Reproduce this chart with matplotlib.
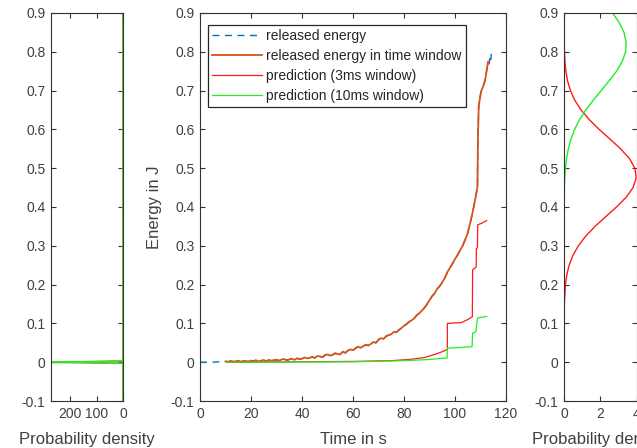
import matplotlib
matplotlib.use("Agg")
import matplotlib.pyplot as plt

plt.rcParams['font.family'] = ['Liberation Sans', 'DejaVu Sans']

# ---------------- data ----------------
# released energy in time window (orange)
win_t = [10, 11, 12, 13, 14, 15, 16, 17, 18, 19,
         20, 21, 22, 23, 24, 25, 26, 27, 28, 29,
         30, 31, 32, 33, 34, 35, 36, 37, 38, 39,
         40, 41, 42, 43, 44, 45, 46, 47, 48, 49,
         50, 51, 52, 53, 54, 55, 56, 57, 58, 59,
         60, 61, 62, 63, 64, 65, 66, 67, 68, 69,
         70, 71, 72, 73, 74, 75, 76, 77, 78, 79,
         80, 81, 82, 83, 84, 85, 86, 87, 88, 89,
         90, 91, 92, 93, 94, 95, 96, 97, 98, 99,
         100, 101, 102, 103, 104, 105, 106, 107, 108,
         108.8, 109.0, 109.3, 110.2, 111.0, 111.8, 112.5, 113.0, 113.4]
win_e = [0.002, 0.001, 0.003, 0.002, 0.002, 0.004, 0.001, 0.003, 0.003, 0.002,
         0.004, 0.003, 0.005, 0.002, 0.004, 0.005, 0.003, 0.006, 0.004, 0.005,
         0.006, 0.004, 0.007, 0.008, 0.005, 0.007, 0.009, 0.006, 0.010, 0.008,
         0.009, 0.012, 0.010, 0.011, 0.014, 0.011, 0.016, 0.015, 0.013, 0.018,
         0.020, 0.017, 0.019, 0.023, 0.021, 0.020, 0.027, 0.024, 0.030, 0.033,
         0.031, 0.036, 0.040, 0.037, 0.041, 0.045, 0.043, 0.047, 0.052, 0.050,
         0.058, 0.062, 0.060, 0.067, 0.070, 0.072, 0.078, 0.077, 0.083, 0.088,
         0.094, 0.098, 0.104, 0.108, 0.113, 0.121, 0.126, 0.133, 0.140, 0.149,
         0.160, 0.170, 0.177, 0.189, 0.196, 0.206, 0.217, 0.232, 0.243, 0.254,
         0.266, 0.276, 0.289, 0.300, 0.316, 0.333, 0.360, 0.389, 0.422,
         0.452, 0.580, 0.660, 0.697, 0.710, 0.727, 0.755, 0.775, 0.770]

# released energy (blue dashed): start and end pieces, middle follows the window data
rel_head_t = [0, 5]
rel_head_e = [0.0, 0.0]
rel_tail_t = [113.8, 114.0, 114.3, 114.6]
rel_tail_e = [0.790, 0.780, 0.800, 0.805]

# prediction (3 ms window) - red
p3_t = [11, 40, 60, 75, 82, 88, 92, 95, 97, 97, 102.5, 105, 106.8, 106.9, 108.3,
        108.4, 108.8, 108.9, 110.4, 112.4]
p3_e = [0.0, 0.001, 0.002, 0.004, 0.007, 0.012, 0.020, 0.027, 0.033, 0.100, 0.102,
        0.110, 0.117, 0.238, 0.245, 0.293, 0.295, 0.354, 0.358, 0.365]

# prediction (10 ms window) - green
p10_t = [11, 60, 80, 90, 96.9, 97, 106.7, 106.9, 108.2, 108.8, 109.5, 112.4]
p10_e = [0.0, 0.001, 0.004, 0.007, 0.011, 0.036, 0.040, 0.075, 0.078, 0.113, 0.115, 0.118]

# right panel: probability densities of predicted energy
pdf_e = [-0.1, 0.0, 0.1, 0.15, 0.2, 0.225, 0.25, 0.275, 0.3, 0.325, 0.35, 0.375,
         0.4, 0.425, 0.45, 0.475, 0.5, 0.525, 0.55, 0.575, 0.6, 0.625, 0.65,
         0.675, 0.7, 0.725, 0.75, 0.775, 0.8, 0.825, 0.85, 0.875, 0.9]
pdf_3ms = [0.0, 0.0, 0.003, 0.017, 0.079, 0.155, 0.283, 0.488, 0.79, 1.2, 1.714, 2.3,
           2.897, 3.43, 3.81, 3.985, 3.91, 3.61, 3.12, 2.54, 1.94, 1.4, 0.94,
           0.596, 0.355, 0.198, 0.104, 0.051, 0.024, 0.01, 0.004, 0.002, 0.001]
pdf_10ms = [0.0, 0.0, 0.0, 0.0, 0.0, 0.0, 0.0, 0.0, 0.001, 0.002, 0.004, 0.007,
            0.011, 0.016, 0.022, 0.043, 0.08, 0.142, 0.238, 0.383, 0.588, 0.861, 1.205,
            1.609, 2.05, 2.49, 2.9, 3.21, 3.4, 3.43, 3.31, 3.05, 2.68]

# left panel: densities of the first predictions (narrow spikes near 0 J)
left_e = [-0.1, -0.003, -0.001, 0.0, 0.001, 0.003, 0.9]
left_3ms = [0.0, 0.0, 180.0, 420.0, 180.0, 0.0, 0.0]
left_10ms = [0.0, 0.0, 160.0, 380.0, 160.0, 0.0, 0.0]

yticks = [-0.1, 0, 0.1, 0.2, 0.3, 0.4, 0.5, 0.6, 0.7, 0.8, 0.9]
ytick_labels = ['-0.1', '0', '0.1', '0.2', '0.3', '0.4', '0.5', '0.6', '0.7', '0.8', '0.9']

# ---------------- style ----------------
C_BLUE = '#0072BD'
C_ORANGE = '#D95319'
C_RED = '#FF1A1A'
C_GREEN = '#22EE22'
AX_COL = '#333333'
TICK_FS = 10
LAB_FS = 12

fig = plt.figure(figsize=(6.37, 4.48), dpi=100)
W, H = 637.0, 448.0
bottom = (H - 401) / H
height = (401 - 13) / H

axL = fig.add_axes([51 / W, bottom, 72 / W, height])
axM = fig.add_axes([200 / W, bottom, 306 / W, height])
axR = fig.add_axes([564 / W, bottom, 72.5 / W, height])


def style(ax):
    for s in ax.spines.values():
        s.set_color(AX_COL)
        s.set_linewidth(0.8)
    ax.tick_params(direction='in', length=3.5, width=0.8, colors=AX_COL,
                   labelsize=TICK_FS, labelcolor='#404040',
                   top=True, right=True, pad=4)
    ax.set_ylim(-0.1, 0.9)
    ax.set_yticks(yticks)
    ax.set_yticklabels(ytick_labels)


# left panel
axL.plot(left_3ms, left_e, color=C_RED, lw=1.0)
axL.plot(left_10ms, left_e, color=C_GREEN, lw=1.0)
axL.set_xlim(273, 0)
axL.set_xticks([200, 100, 0])
axL.set_xticklabels(['200', '100', '0'])
style(axL)
axL.set_xlabel('Probability density', fontsize=LAB_FS, color='#404040', labelpad=8)

# middle panel
rel_t = rel_head_t + win_t + rel_tail_t
rel_e = rel_head_e + win_e + rel_tail_e
axM.plot(rel_t, rel_e, color=C_BLUE, lw=1.0, ls=(0, (5, 4)), label='released energy')
axM.plot(win_t, win_e, color=C_ORANGE, lw=1.3, label='released energy in time window')
axM.plot(p3_t, p3_e, color=C_RED, lw=0.9, label='prediction (3ms window)')
axM.plot(p10_t, p10_e, color=C_GREEN, lw=0.9, label='prediction (10ms window)')
axM.set_xlim(0, 120)
axM.set_xticks([0, 20, 40, 60, 80, 100, 120])
style(axM)
axM.set_xlabel('Time in s', fontsize=LAB_FS, color='#404040', labelpad=8)
axM.set_ylabel('Energy in J', fontsize=LAB_FS, color='#404040', labelpad=6)
leg = axM.legend(loc='upper left', bbox_to_anchor=(8 / 306, 1 - 12 / 388),
                 borderaxespad=0, fontsize=10, handlelength=3.6, handletextpad=0.3,
                 labelspacing=0.42, borderpad=0.3, fancybox=False, framealpha=1)
leg.get_frame().set_edgecolor('#262626')
leg.get_frame().set_linewidth(0.9)
for t in leg.get_texts():
    t.set_color('#262626')

# right panel
axR.plot(pdf_3ms, pdf_e, color=C_RED, lw=1.0)
axR.plot(pdf_10ms, pdf_e, color=C_GREEN, lw=1.0)
axR.set_xlim(0, 4)
axR.set_xticks([0, 2, 4])
style(axR)
axR.set_xlabel('Probability density', fontsize=LAB_FS, color='#404040', labelpad=8)

fig.savefig('out.png', dpi=100)
